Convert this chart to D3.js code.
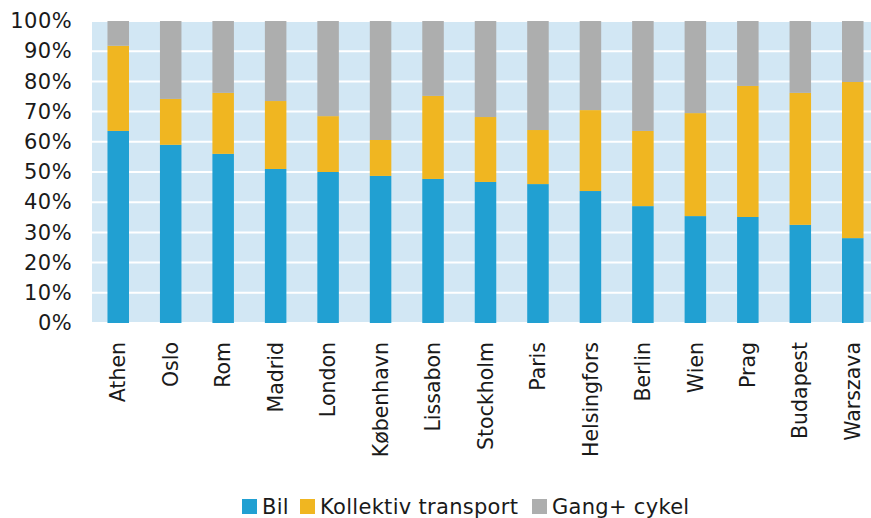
<!DOCTYPE html>
<html>
<head>
<meta charset="utf-8">
<script src="https://cdn.jsdelivr.net/npm/d3@7"></script>
<style>
  body { margin: 0; background: #fff; }
  text { font-family: "DejaVu Sans", Verdana, sans-serif; fill: #1a1a1a; }
</style>
</head>
<body>
<div id="chart"></div>
<script>
"use strict";

// données (en %)
var villes = ["Athen", "Oslo", "Rom", "Madrid", "London", "København", "Lissabon", "Stockholm",
              "Paris", "Helsingfors", "Berlin", "Wien", "Prag", "Budapest", "Warszava"];
var bil       = [63.6, 59.0, 56.0, 51.0, 50.0, 48.7, 47.7, 46.7, 46.0, 43.7, 38.7, 35.4, 35.1, 32.5, 28.1];
var kollektiv = [28.2, 15.2, 20.2, 22.5, 18.5, 11.9, 27.5, 21.5, 17.9, 26.8, 24.9, 34.1, 43.4, 43.7, 51.7];
var gangCykel = [ 8.2, 25.8, 23.8, 26.5, 31.5, 39.4, 24.8, 31.8, 36.1, 29.5, 36.4, 30.5, 21.5, 23.8, 20.2];
var series = ["Bil", "Kollektiv transport", "Gang+ cykel"];
var ticks = [0, 10, 20, 30, 40, 50, 60, 70, 80, 90, 100];

var larg = 871, haut = 518;
var couleurs = ["#21a0d2", "#f0b621", "#adaeae"];
var police = "21px";

var svg = d3.select("#chart").append("svg")
  .attr("width", larg)
  .attr("height", haut);

var x = d3.scaleBand().domain(villes).range([92, 879]).paddingInner(0.59).paddingOuter(0.295);
var y = d3.scaleLinear().domain([0, 100]).range([323, 21]);

// fond du tracé
svg.append("rect")
  .attr("x", 92).attr("y", y(100))
  .attr("width", larg - 92).attr("height", y(0) - y(100))
  .attr("fill", "#d2e7f4");

// lignes de grille
svg.selectAll("line.grille")
  .data(ticks)
  .enter()
  .append("line")
  .attr("class", "grille")
  .attr("x1", 92).attr("x2", larg)
  .attr("y1", function(d){ return y(d); })
  .attr("y2", function(d){ return y(d); })
  .attr("stroke", "#fff")
  .attr("stroke-width", 2);

// empilement
var table = villes.map(function(v, i){
  return { ville: v, "Bil": bil[i], "Kollektiv transport": kollektiv[i], "Gang+ cykel": gangCykel[i] };
});
var stack = d3.stack().keys(series)(table);

svg.selectAll("g.serie")
  .data(stack)
  .enter()
  .append("g")
  .attr("class", "serie")
  .attr("fill", function(d, i){ return couleurs[i]; })
  .selectAll("rect")
  .data(function(d){ return d; })
  .enter()
  .append("rect")
  .attr("x", function(d){ return x(d.data.ville); })
  .attr("y", function(d){ return y(d[1]); })
  .attr("width", x.bandwidth())
  .attr("height", function(d){ return y(d[0]) - y(d[1]); });

// axe y
var axeY = svg.append("g")
  .attr("transform", "translate(92,0)")
  .call(d3.axisLeft(y).tickValues(ticks).tickSize(0).tickPadding(20)
    .tickFormat(function(d){ return d + "%"; }));
axeY.select(".domain").remove();
axeY.selectAll("text")
  .attr("font-size", police)
  .attr("font-family", "DejaVu Sans, Verdana, sans-serif")
  .attr("letter-spacing", "0.4px")
  .attr("fill", "#1a1a1a");

// axe x (noms des villes, verticaux)
var axeX = svg.append("g")
  .attr("transform", "translate(0," + y(0) + ")")
  .call(d3.axisBottom(x).tickSize(0));
axeX.select(".domain").remove();
axeX.selectAll("text")
  .attr("font-size", "20.5px")
  .attr("font-family", "DejaVu Sans, Verdana, sans-serif")
  .attr("fill", "#1a1a1a")
  .attr("text-anchor", "end")
  .attr("x", -19)
  .attr("y", 0)
  .attr("dy", "0.35em")
  .attr("transform", "rotate(-90)");

// légende
var legende = [
  { nom: series[0], x: 242 },
  { nom: series[1], x: 300 },
  { nom: series[2], x: 532 }
];
var lg = svg.selectAll("g.legende")
  .data(legende)
  .enter()
  .append("g")
  .attr("class", "legende")
  .attr("transform", function(d){ return "translate(" + d.x + ",499)"; });
lg.append("rect")
  .attr("width", 15).attr("height", 15)
  .attr("fill", function(d, i){ return couleurs[i]; });
lg.append("text")
  .attr("x", 20).attr("y", 15)
  .attr("font-size", police)
  .attr("letter-spacing", "0.3px")
  .text(function(d){ return d.nom; });
</script>
</body>
</html>
